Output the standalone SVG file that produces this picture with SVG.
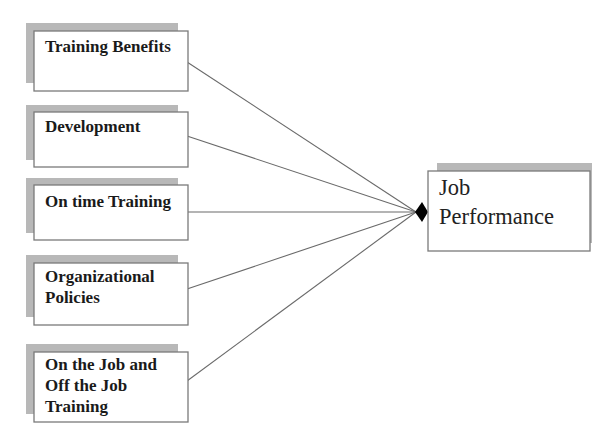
<svg xmlns="http://www.w3.org/2000/svg" width="592" height="424" viewBox="0 0 592 424">
<defs>
<style>
.sh{fill:#b8b8b8}
.bx{fill:#fff;stroke:#7a7a7a;stroke-width:1.3}
.t{font-family:"Liberation Serif","Times New Roman",serif;font-weight:bold;font-size:17px;fill:#1a1a1a}
.tj{font-family:"Liberation Serif","Times New Roman",serif;font-size:22.5px;fill:#222}
.ln{stroke:#6a6a6a;stroke-width:1.1;fill:none}
</style>
</defs>
<rect width="592" height="424" fill="#fff"/>
<g id="connectors">
<line class="ln" x1="187" y1="62" x2="416" y2="212"/>
<line class="ln" x1="187" y1="136" x2="416" y2="212"/>
<line class="ln" x1="187" y1="212" x2="416" y2="212"/>
<line class="ln" x1="187" y1="289" x2="416" y2="212"/>
<line class="ln" x1="187" y1="381" x2="416" y2="212"/>
<polygon points="422,202 428,212 422,222 415,212" fill="#000"/>
</g>
<g id="n1">
<rect class="sh" x="26" y="23" width="152" height="60"/>
<rect class="bx" x="34" y="31" width="154" height="60"/>
<text class="t" x="45" y="52">Training Benefits</text>
</g>
<g id="n2">
<rect class="sh" x="26" y="105" width="152" height="55"/>
<rect class="bx" x="34" y="112" width="154" height="55"/>
<text class="t" x="45" y="132">Development</text>
</g>
<g id="n3">
<rect class="sh" x="26" y="178" width="152" height="55"/>
<rect class="bx" x="34" y="185" width="154" height="55"/>
<text class="t" x="45" y="207">On time Training</text>
</g>
<g id="n4">
<rect class="sh" x="26" y="255" width="152" height="62"/>
<rect class="bx" x="34" y="263" width="154" height="62"/>
<text class="t" x="45" y="282">Organizational</text>
<text class="t" x="45" y="303">Policies</text>
</g>
<g id="n5">
<rect class="sh" x="26" y="344" width="152" height="70"/>
<rect class="bx" x="34" y="352" width="154" height="70"/>
<text class="t" x="45" y="370">On the Job and</text>
<text class="t" x="45" y="391">Off the Job</text>
<text class="t" x="45" y="412">Training</text>
</g>
<g id="job">
<rect class="sh" x="437" y="163" width="160" height="80"/>
<rect class="bx" x="428" y="171" width="162" height="80"/>
<text class="tj" x="439" y="195">Job</text>
<text class="tj" x="439" y="224">Performance</text>
</g>
</svg>
